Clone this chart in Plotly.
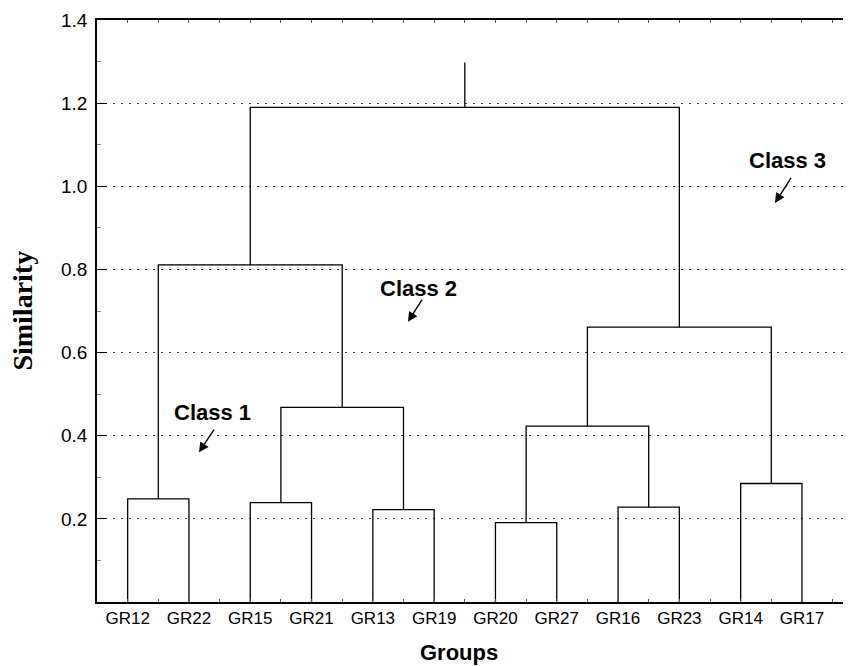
import plotly.graph_objects as go

# ---- data ----
leaves = ["GR12", "GR22", "GR15", "GR21", "GR13", "GR19",
          "GR20", "GR27", "GR16", "GR23", "GR14", "GR17"]
# merges: (left cluster id, right cluster id, similarity height); leaf ids 0..11, new ids 12..
merge_left = [0, 2, 4, 6, 8, 10, 13, 12, 15, 20, 19]
merge_right = [1, 3, 5, 7, 9, 11, 14, 18, 16, 17, 21]
merge_height = [0.248, 0.239, 0.222, 0.191, 0.228, 0.285, 0.468, 0.811, 0.423, 0.661, 1.190]
root_top = 1.298
ytick_vals = [0.2, 0.4, 0.6, 0.8, 1.0, 1.2, 1.4]
ytick_text = ["0.2", "0.4", "0.6", "0.8", "1.0", "1.2", "1.4"]

# ---- build dendrogram path ----
pos = {i: (float(i), 0.0) for i in range(len(leaves))}
xs, ys = [], []
nid = len(leaves)
for l, r, h in zip(merge_left, merge_right, merge_height):
    xl, hl = pos[l]
    xr, hr = pos[r]
    xs += [xl, xl, xr, xr, None]
    ys += [hl, h, h, hr, None]
    pos[nid] = ((xl + xr) / 2, h)
    nid += 1
rx, rh = pos[nid - 1]
xs += [rx, rx, None]
ys += [rh, root_top, None]

fig = go.Figure()
fig.add_trace(go.Scatter(x=xs, y=ys, mode="lines",
                         line=dict(color="black", width=1.3),
                         hoverinfo="skip", showlegend=False))

font_sans = "Liberation Sans, Arial, sans-serif"
# page body has an 8px margin: figure is sized/margined to compensate
fig.update_layout(
    width=843, height=658,
    margin=dict(l=89, r=0, t=12, b=64, autoexpand=False),
    paper_bgcolor="white", plot_bgcolor="white",
    font=dict(family=font_sans, color="black", size=18),
    xaxis=dict(range=[-0.5, 11.8], tickvals=list(range(len(leaves))), ticktext=leaves,
               showgrid=False, zeroline=False, showline=True, linecolor="black", linewidth=1.5,
               mirror="allticks", ticks="inside", ticklen=3, tickcolor="#555",
               minor=dict(dtick=0.5, tick0=0, ticks="inside", ticklen=3, tickcolor="#555"),
               tickfont=dict(size=17, family=font_sans, color="black"), automargin=False),
    yaxis=dict(range=[0, 1.4], tickvals=ytick_vals, ticktext=ytick_text,
               showgrid=True, gridcolor="#444", griddash="2px,6px", gridwidth=1,
               zeroline=False, showline=True, linecolor="black", linewidth=1.5,
               ticks="inside", ticklen=10, tickcolor="black", ticklabelstandoff=4,
               minor=dict(dtick=0.1, tick0=0, ticks="inside", ticklen=4, tickcolor="#888", showgrid=False),
               tickfont=dict(size=19, family=font_sans, color="black"), automargin=False),
)

ann = []
ann.append(dict(text="<b>Similarity</b>", xref="paper", yref="paper", x=-0.1, y=0.5,
                textangle=-90, showarrow=False, xanchor="center", yanchor="middle",
                font=dict(family="Liberation Serif, Times New Roman, serif", size=28, color="black")))
ann.append(dict(text="<b>Groups</b>", xref="paper", yref="paper", x=0.48, y=-0.087,
                showarrow=False, xanchor="center", yanchor="middle",
                font=dict(family=font_sans, size=22, color="black")))

class_text = ["Class 1", "Class 2", "Class 3"]
text_pos = [(1.392, 0.455), (4.737, 0.754), (10.772, 1.061)]
arrow_tail = [(1.425, 0.418), (4.818, 0.731), (10.838, 1.024)]
arrow_head = [(1.164, 0.360), (4.573, 0.674), (10.560, 0.960)]
for t, (tx, ty), (ax, ay), (hx, hy) in zip(class_text, text_pos, arrow_tail, arrow_head):
    ann.append(dict(text="<b>%s</b>" % t, x=tx, y=ty, xref="x", yref="y", showarrow=False,
                    xanchor="center", yanchor="middle",
                    font=dict(family=font_sans, size=22, color="black")))
    ann.append(dict(text="", x=hx, y=hy, ax=ax, ay=ay, xref="x", yref="y", axref="x", ayref="y",
                    showarrow=True, arrowhead=2, arrowsize=1.4, arrowwidth=1.4, arrowcolor="black",
                    standoff=0, startstandoff=0))
fig.update_layout(annotations=ann)

fig.write_html("out.html")
